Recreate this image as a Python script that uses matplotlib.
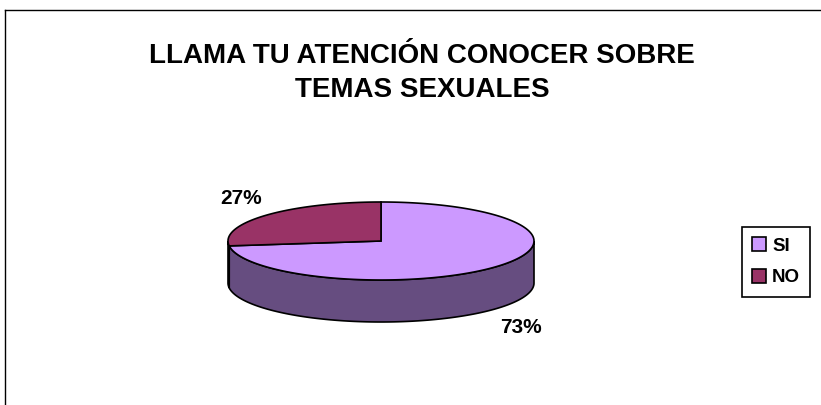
import numpy as np
import matplotlib.pyplot as plt
from matplotlib.patches import Polygon, Patch

# datos
categorias = ['SI', 'NO']
valores = [73, 27]
colores_top = ['#CC99FF', '#993366']
colores_lado = ['#664D80', '#4D1A33']
titulo = 'LLAMA TU ATENCIÓN CONOCER SOBRE\nTEMAS SEXUALES'

plt.rcParams['font.family'] = ['Liberation Sans', 'DejaVu Sans']

W, H = 821, 405
fig = plt.figure(figsize=(W / 100, H / 100), dpi=100)
ax = fig.add_axes([0, 0, 1, 1])
ax.set_xlim(0, W)
ax.set_ylim(H, 0)
ax.axis('off')

# marco del grafico
ax.plot([5, W], [10, 10], color='black', lw=1)
ax.plot([5, 5], [10, H], color='black', lw=1)

# pastel 3D
cx, cy, rx, ry, prof = 381, 241, 153, 39, 42


def elipse(a1, a2, dy=0, n=200):
    t = np.radians(np.linspace(a1, a2, n))
    return np.column_stack([cx + rx * np.cos(t), cy - ry * np.sin(t) + dy])


total = sum(valores)
# Excel: empieza a las 12 y avanza en sentido horario
rangos = []
fin = 90 + 360
for v in valores:
    ini = fin - v / total * 360
    rangos.append((ini, fin))
    fin = ini

# lados (solo la parte frontal, 180..360)
for (a1, a2), c in zip(rangos, colores_lado):
    for off in (0, 360):
        lo = max(a1, 180 + off)
        hi = min(a2, 360 + off)
        if hi > lo:
            arriba = elipse(lo, hi)
            abajo = elipse(hi, lo, dy=prof)
            ax.add_patch(Polygon(np.vstack([arriba, abajo]), closed=True,
                                 facecolor=c, edgecolor='black', lw=1.2))

# tapas
for (a1, a2), c in zip(rangos, colores_top):
    pts = np.vstack([[cx, cy], elipse(a1, a2)])
    ax.add_patch(Polygon(pts, closed=True, facecolor=c, edgecolor='black', lw=1.2))

# etiquetas de porcentaje
for (a1, a2), v in zip(rangos, valores):
    m = np.radians((a1 + a2) / 2)
    x = cx + 1.22 * rx * np.cos(m)
    y = cy - 1.7 * ry * np.sin(m) + (prof if np.sin(m) < 0 else 0) + 1
    ax.text(x, y, f'{v}%', ha='center', va='center', fontsize=15,
            fontweight='bold')

ax.text(422, 73, titulo, ha='center', va='center', fontsize=20,
        fontweight='bold', linespacing=1.42)

handles = [Patch(facecolor=c, edgecolor='black', lw=1.2) for c in colores_top]
leg = fig.legend(handles, categorias, loc='upper left',
                 bbox_to_anchor=(742 / W, 1 - 227 / H),
                 prop={'weight': 'bold', 'size': 13.5},
                 fancybox=False, edgecolor='black', framealpha=1,
                 handlelength=0.75, handleheight=0.75, handletextpad=0.3,
                 labelspacing=0.75, borderpad=0.55, borderaxespad=0)
leg.get_frame().set_linewidth(1.2)

fig.savefig('out.png', dpi=100)
